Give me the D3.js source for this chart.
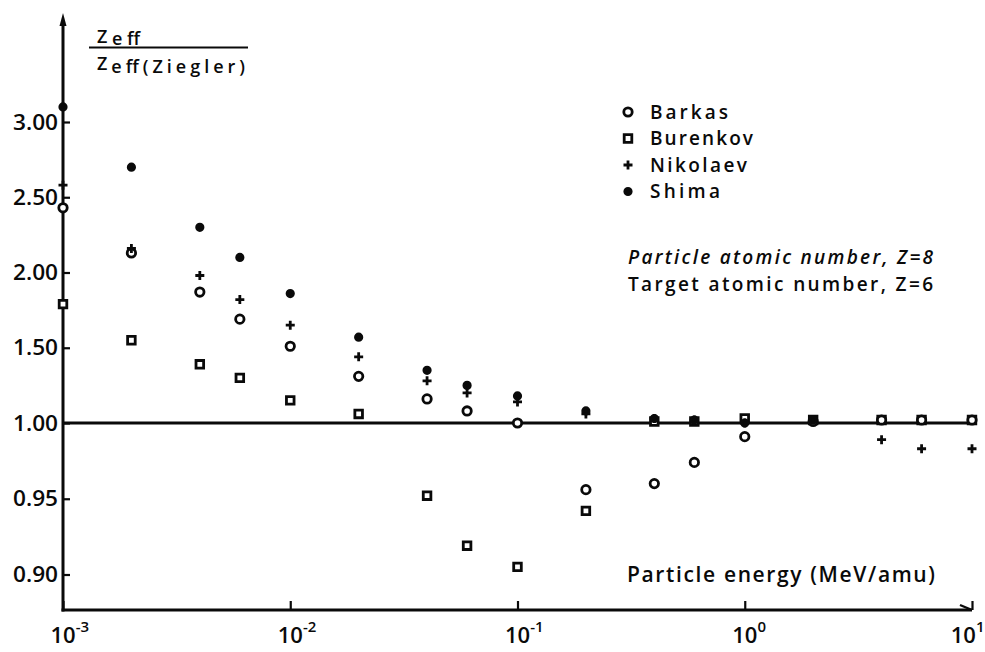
<!DOCTYPE html>
<html>
<head>
<meta charset="utf-8">
<script src="https://cdn.jsdelivr.net/npm/d3@7"></script>
<style>
  body { margin: 0; background: #fff; }
  svg { display: block; }
  text { font-family: "Open Sans", "DejaVu Sans", sans-serif; font-weight: 600; fill: #0a0a0a; }
</style>
</head>
<body>
<svg id="chart" width="985" height="652"></svg>
<script>
// Particle energy in MeV/amu (log axis)
const energy   = [0.001, 0.002, 0.004, 0.006, 0.01, 0.02, 0.04, 0.06, 0.1, 0.2, 0.4, 0.6, 1, 2, 4, 6, 10];

// Zeff / Zeff(Ziegler) for each author (null = no point)
const barkas   = [2.43, 2.13, 1.87, 1.69, 1.51, 1.31, 1.16, 1.08, 1.00, 0.956, 0.960, 0.974, 0.991, 1.01, 1.02, 1.02, 1.02];
const burenkov = [1.79, 1.55, 1.39, 1.30, 1.15, 1.06, 0.952, 0.919, 0.905, 0.942, 1.01, 1.01, 1.03, 1.02, 1.02, 1.02, 1.02];
const nikolaev = [2.58, 2.16, 1.98, 1.82, 1.65, 1.44, 1.28, 1.20, 1.14, 1.06, 1.03, 1.02, 1.00, 1.02, 0.989, 0.983, 0.983];
const shima    = [3.10, 2.70, 2.30, 2.10, 1.86, 1.57, 1.35, 1.25, 1.18, 1.08, 1.03, 1.02, 1.00, 1.02, null, null, null];

// Axis ticks
const yTicks = [0.90, 0.95, 1.00, 1.50, 2.00, 2.50, 3.00];
const xTickExponents = [-3, -2, -1, 0, 1];

// Legend and annotation text
const legendNames = ["Barkas", "Burenkov", "Nikolaev", "Shima"];
const legendKinds = ["circle", "square", "plus", "dot"];
const noteLines = ["Particle atomic number, Z=8", "Target atomic number, Z=6"];
const xTitle = "Particle energy (MeV/amu)";

const ink = "#0a0a0a";
const svg = d3.select("#chart");

// x: logarithmic energy; y: broken scale (0.05 per step below 1, 0.5 per step above)
const x = d3.scaleLog().domain([1e-3, 1e1]).range([63, 972]);
const y = d3.scaleLinear().domain([0.90, 1.00, 3.00]).range([574.5, 423, 122]);

const axisY = 610;      // baseline of the energy axis
const axisTop = 13;     // tip of the ratio axis arrow
const x0 = x(1e-3);

// Marker shapes, centred on the origin
const markPaths = {
  circle: "M4.2,0A4.2,4.2 0 1,1 -4.2,0A4.2,4.2 0 1,1 4.2,0Z",
  square: "M-3.8,-3.8H3.8V3.8H-3.8Z",
  plus:   "M-4.5,0H4.5M0,-4.5V4.5",
  dot:    "M3.2,0A3.2,3.2 0 1,1 -3.2,0A3.2,3.2 0 1,1 3.2,0Z"
};
function styleMark(sel, kind) {
  sel.attr("d", markPaths[kind])
     .attr("stroke", ink)
     .attr("stroke-width", 2.8)
     .attr("fill", kind === "dot" ? ink : (kind === "plus" ? "none" : "#fff"));
}

// ---- Axes ----
const yAxis = svg.append("g")
  .attr("transform", `translate(${x0},0)`)
  .call(d3.axisLeft(y).tickValues(yTicks).tickSize(-7).tickPadding(5).tickFormat(d3.format(".2f")));
yAxis.select(".domain").remove();
yAxis.selectAll(".tick line").attr("stroke", ink).attr("stroke-width", 2.2);
yAxis.selectAll(".tick text").attr("font-size", 22).attr("fill", ink)
  .attr("textLength", 45).attr("lengthAdjust", "spacingAndGlyphs")
  .style("font-family", null);

const xAxis = svg.append("g")
  .attr("transform", `translate(0,${axisY})`)
  .call(d3.axisBottom(x).tickValues(xTickExponents.map(e => Math.pow(10, e)))
        .tickSize(-9).tickSizeOuter(0).tickFormat(() => ""));
xAxis.select(".domain").remove();
xAxis.selectAll(".tick line").attr("stroke", ink).attr("stroke-width", 2.2);
xAxis.selectAll(".tick text").each(function (d, i) {
  const t = d3.select(this)
    .attr("text-anchor", "start").attr("x", -13).attr("y", 33).attr("dy", null)
    .attr("fill", ink).style("font-family", null);
  t.append("tspan").attr("font-size", 22).text("10");
  t.append("tspan").attr("font-size", 15).attr("dy", -11).text(String(xTickExponents[i]));
  // keep the last label inside the frame
  const b = this.getBBox();
  const right = x(d) - 13 + b.width;
  if (right > 984) t.attr("x", -13 - (right - 984));
});

// axis lines with arrowheads
svg.append("line").attr("x1", x0).attr("x2", x0).attr("y1", axisY + 1.5).attr("y2", axisTop + 8)
  .attr("stroke", ink).attr("stroke-width", 3);
svg.append("path")
  .attr("d", `M${x0},${axisTop}L${x0 - 3.5},${axisTop + 13}L${x0 + 3.5},${axisTop + 13}Z`)
  .attr("fill", ink);
svg.append("line").attr("x1", x0 - 1.5).attr("x2", x(1e1)).attr("y1", axisY).attr("y2", axisY)
  .attr("stroke", ink).attr("stroke-width", 3);
svg.append("path")
  .attr("d", `M${x(1e1) - 12},${axisY - 5}L${x(1e1)},${axisY}`)
  .attr("fill", "none").attr("stroke", ink).attr("stroke-width", 2.4);

// reference line at ratio 1.00
svg.append("line").attr("x1", x0).attr("x2", x(1e1)).attr("y1", y(1)).attr("y2", y(1))
  .attr("stroke", ink).attr("stroke-width", 3);

// ---- Axis titles ----
const yTitle = svg.append("g");
const numerator = yTitle.append("text").attr("x", 97).attr("y", 43).attr("textLength", 43).attr("lengthAdjust", "spacing");
numerator.append("tspan").attr("font-size", 18).text("Z");
numerator.append("tspan").attr("font-size", 18).attr("dy", 2).text("eff");
yTitle.append("line").attr("x1", 89).attr("x2", 248).attr("y1", 47.5).attr("y2", 47.5)
  .attr("stroke", ink).attr("stroke-width", 2.2);
const denominator = yTitle.append("text").attr("x", 97).attr("y", 70).attr("textLength", 148).attr("lengthAdjust", "spacing");
denominator.append("tspan").attr("font-size", 18).text("Z");
denominator.append("tspan").attr("font-size", 18).attr("dy", 3).text("eff(Ziegler)");

svg.append("text").attr("x", 627).attr("y", 582).attr("font-size", 21)
  .attr("textLength", 308).attr("lengthAdjust", "spacing").text(xTitle);

// ---- Data points ----
const series = [
  { kind: "square", values: burenkov },
  { kind: "circle", values: barkas },
  { kind: "plus",   values: nikolaev },
  { kind: "dot",    values: shima }
];
series.forEach(s => {
  const pts = energy.map((e, i) => ({ e, v: s.values[i] })).filter(d => d.v != null);
  svg.append("g").selectAll("path").data(pts).join("path")
    .attr("transform", d => `translate(${x(d.e)},${y(d.v)})`)
    .call(styleMark, s.kind);
});

// ---- Legend ----
const legend = svg.append("g").attr("transform", "translate(628,112)");
const legendWidths = [78, 103, 97, 70];
legendNames.forEach((name, i) => {
  const row = legend.append("g").attr("transform", `translate(0,${i * 26.5})`);
  row.append("path").call(styleMark, legendKinds[i]);
  row.append("text").attr("x", 22).attr("y", 6.5).attr("font-size", 19)
    .attr("textLength", legendWidths[i]).attr("lengthAdjust", "spacing").text(name);
});

// ---- Annotation ----
svg.append("text").attr("x", 628).attr("y", 264).attr("font-size", 19).attr("font-style", "italic")
  .attr("textLength", 305).attr("lengthAdjust", "spacing").text(noteLines[0]);
svg.append("text").attr("x", 628).attr("y", 291).attr("font-size", 19)
  .attr("textLength", 305).attr("lengthAdjust", "spacing").text(noteLines[1]);
</script>
</body>
</html>
